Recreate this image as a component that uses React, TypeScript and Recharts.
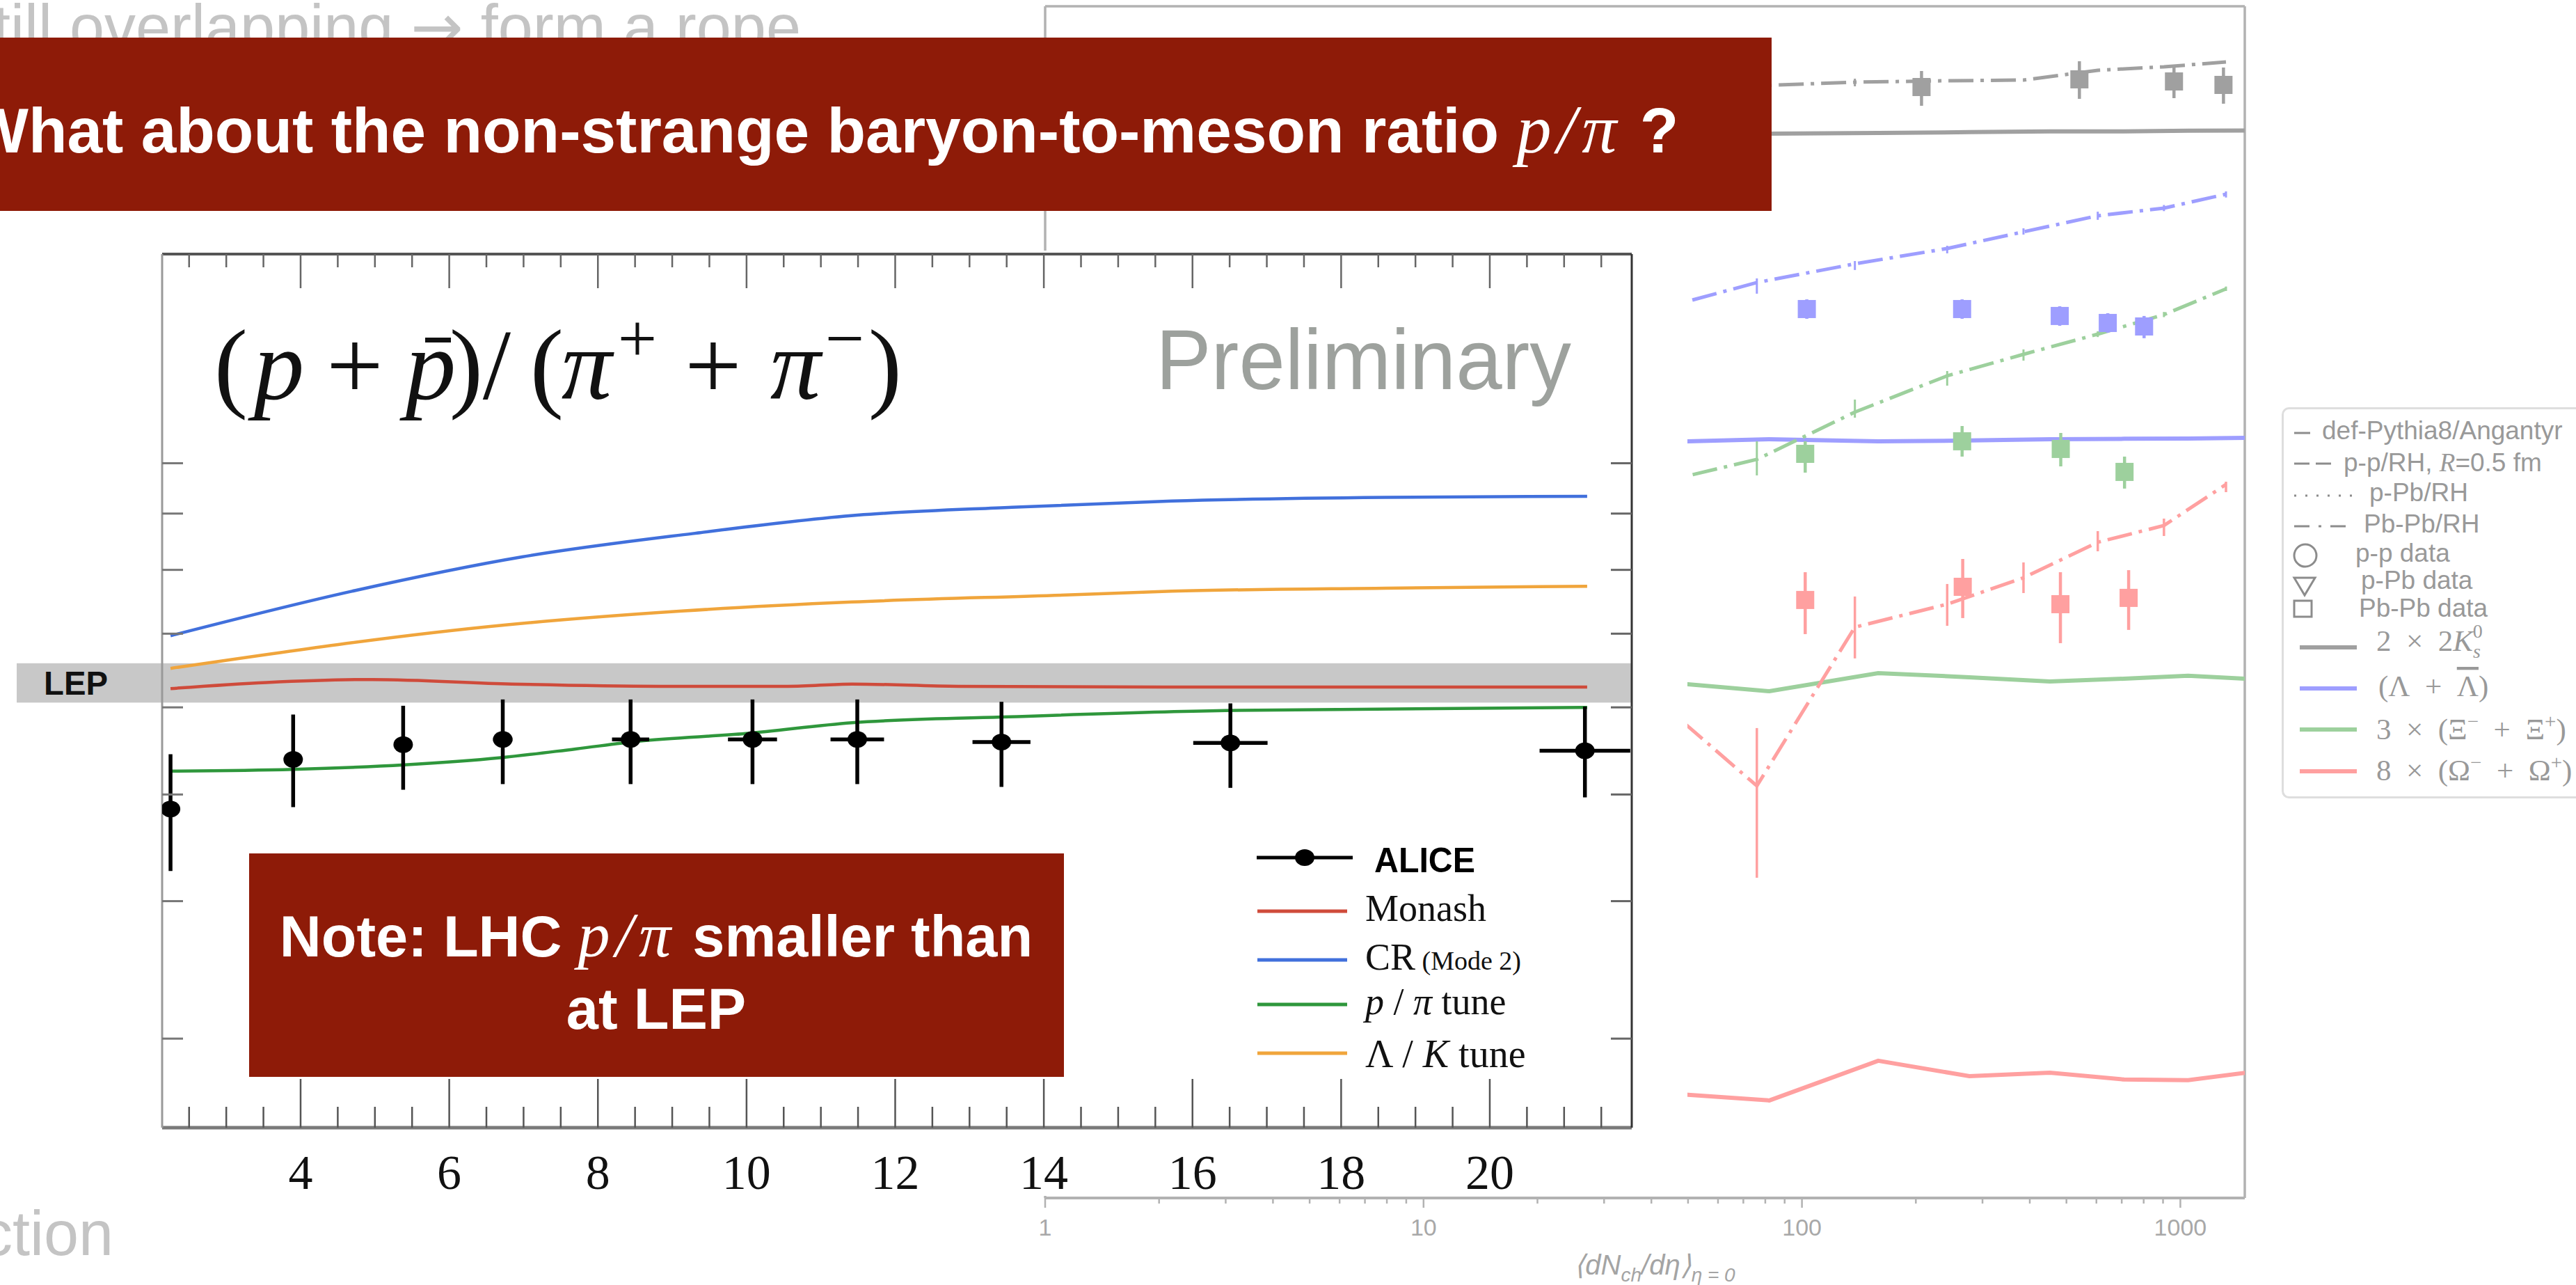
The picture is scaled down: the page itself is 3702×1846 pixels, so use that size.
import {
  ComposedChart,
  ErrorBar,
  Legend,
  Line,
  ReferenceArea,
  ReferenceLine,
  Scatter,
  XAxis,
  YAxis,
} from "recharts";

const W = 3702;
const H = 1846;

const SANS = '"Liberation Sans", Arial, Helvetica, sans-serif';
const SERIF = '"Liberation Serif", "Times New Roman", serif';
const SLIDE_RED = "#8e1b08";
const FADED = "#c4c4c4";

// ---------- ALICE (p + pbar)/(pi+ + pi-) panel ----------
const INSET_PLOT_H = 1255;
const insetMajorTicks = [4, 6, 8, 10, 12, 14, 16, 18, 20];
const insetTicks = [
  2.5, 3, 3.5, 4, 4.5, 5, 5.5, 6, 6.5, 7, 7.5, 8, 8.5, 9, 9.5, 10, 10.5, 11, 11.5, 12,
  12.5, 13, 13.5, 14, 14.5, 15, 15.5, 16, 16.5, 17, 17.5, 18, 18.5, 19, 19.5, 20, 20.5,
  21, 21.5,
];
const insetYTicks = [0.03, 0.04, 0.05, 0.06, 0.07, 0.08, 0.09, 0.1];

const aliceX = [2.25, 3.9, 5.38, 6.72, 8.44, 10.08, 11.49, 13.43, 16.51, 21.28];
const aliceY = [0.0485, 0.0538, 0.0555, 0.0561, 0.0561, 0.0561, 0.0561, 0.0558, 0.0557, 0.0548];
const aliceYLow = [0.0426, 0.0487, 0.0505, 0.0511, 0.0511, 0.0511, 0.0511, 0.0508, 0.0507, 0.0497];
const aliceYHigh = [0.0544, 0.0591, 0.0602, 0.061, 0.061, 0.061, 0.061, 0.0607, 0.0605, 0.0601];
const aliceXErr = [0, 0.05, 0.1, 0.13, 0.25, 0.33, 0.36, 0.39, 0.5, 0.61];

const monashX = [2.25, 3.54, 4.97, 6.84, 8.84, 10.56, 11.42, 12.85, 15.72, 21.31];
const monashY = [0.0624, 0.0632, 0.0636, 0.063, 0.0627, 0.0627, 0.063, 0.0627, 0.0626, 0.0626];
const crX = [2.25, 4.69, 6.98, 9.27, 11.49, 13.57, 15.72, 18.59, 21.31];
const crY = [0.0697, 0.0765, 0.0822, 0.0863, 0.0897, 0.0912, 0.0924, 0.0931, 0.0933];
const ppiX = [2.25, 3.9, 5.4, 6.69, 7.7, 8.55, 9.99, 11.42, 13.43, 16.44, 21.31];
const ppiY = [0.0525, 0.0527, 0.0532, 0.054, 0.055, 0.0559, 0.0568, 0.0581, 0.0588, 0.0596, 0.06];
const lkX = [2.25, 6.76, 9.13, 11.42, 14.29, 15.72, 18.59, 21.31];
const lkY = [0.0651, 0.0713, 0.0734, 0.0748, 0.0759, 0.0765, 0.077, 0.0773];

const lepLow = 0.0606;
const lepHigh = 0.0658;

const MONASH = "#cf4b3b";
const CR = "#4170dc";
const PPI = "#2f973c";
const LK = "#f0a53c";

// ---------- Angantyr / rope hadronization panel ----------
const decadeTicks = [
  1, 2, 3, 4, 5, 6, 7, 8, 9, 10, 20, 30, 40, 50, 60, 70, 80, 90, 100, 200, 300, 400, 500,
  600, 700, 800, 900, 1000,
];
const decadeLabels = [1, 10, 100, 1000];
const ratioTicks = [0.001, 0.01, 0.1, 1];

// default Pythia8/Angantyr curves
const defX = [30, 50, 82, 159, 277, 452, 710, 1048, 1600];
const k0Def = [0.478, 0.478, 0.478, 0.48, 0.482, 0.484, 0.484, 0.486, 0.487];
const lamDef = [0.0803, 0.0803, 0.0813, 0.0803, 0.0807, 0.0813, 0.0815, 0.0816, 0.082];
const xiDef = [0.02, 0.01965, 0.01887, 0.02096, 0.02046, 0.01997, 0.02029, 0.02063, 0.02021];
const omDef = [0.001877, 0.001818, 0.00176, 0.002215, 0.002026, 0.002068, 0.001987, 0.001979, 0.002085];

// Pb-Pb with rope hadronization
const rhX = [40, 76, 138, 242, 385, 605, 905, 1320];
const k0Rh = [0.628, 0.631, 0.644, 0.6495, 0.652, 0.69, 0.704, 0.724];
const k0RhLow = [0.628, 0.631, 0.6288, 0.6495, 0.652, 0.69, 0.704, 0.724];
const k0RhHigh = [0.628, 0.631, 0.6572, 0.6495, 0.652, 0.69, 0.704, 0.724];
const lamRh = [0.1708, 0.2016, 0.2247, 0.2456, 0.2705, 0.2969, 0.3104, 0.3364];
const lamRhLow = [0.1708, 0.189, 0.2168, 0.2388, 0.2662, 0.29, 0.305, 0.33];
const lamRhHigh = [0.1708, 0.2065, 0.2284, 0.2495, 0.2761, 0.304, 0.316, 0.342];
const xiRh = [0.06255, 0.07233, 0.09515, 0.1174, 0.133, 0.1495, 0.1674, 0.1943];
const xiRhLow = [0.06255, 0.06592, 0.0921, 0.1109, 0.1282, 0.147, 0.165, 0.192];
const xiRhHigh = [0.06255, 0.08034, 0.1023, 0.1207, 0.1368, 0.152, 0.17, 0.197];
const omRh = [0.01849, 0.0109, 0.02735, 0.03125, 0.03642, 0.04475, 0.0493, 0.06255];
const omRhLow = [0.01849, 0.0064, 0.02282, 0.02757, 0.03333, 0.04246, 0.0464, 0.05982];
const omRhHigh = [0.01849, 0.01524, 0.03267, 0.03513, 0.03981, 0.04773, 0.05132, 0.06355];

// Pb-Pb data
const k0DataX = [207, 541, 962, 1300];
const k0Data = [0.6262, 0.6547, 0.6468, 0.6339];
const k0DataLow = [0.5617, 0.5847, 0.5871, 0.5685];
const k0DataHigh = [0.6871, 0.7271, 0.7068, 0.7012];
const lamDataX = [103, 265, 480, 643, 802];
const lamData = [0.1729, 0.1729, 0.1661, 0.1595, 0.1563];
const lamDataLow = [0.1634, 0.1634, 0.1569, 0.1507, 0.146];
const lamDataHigh = [0.1829, 0.1829, 0.1757, 0.1688, 0.1661];
const xiDataX = [102, 265, 483, 712];
const xiData = [0.0747, 0.08034, 0.07685, 0.06727];
const xiDataLow = [0.06699, 0.07351, 0.06946, 0.06107];
const xiDataHigh = [0.08034, 0.08776, 0.08431, 0.07351];
const omDataX = [102, 266, 482, 730];
const omData = [0.03202, 0.03456, 0.03125, 0.03241];
const omDataLow = [0.02627, 0.02883, 0.02493, 0.02692];
const omDataHigh = [0.03761, 0.04061, 0.03761, 0.03806];

const GRAY = "#a0a0a0";
const BLUE = "#9e9eff";
const GREEN = "#9dd09d";
const PINK = "#ffa0a0";
const AX_GRAY = "#b2b2b2";
const LEGEND_TEXT = "#999";
const DASH_DOT = "36 10 5 10";
const EN = "\u2002";

const pts = (xs: number[], ys: number[]) => xs.map((x, i) => ({ x, y: ys[i] }));
const withBars = (xs: number[], ys: number[], lo: number[], hi: number[]) =>
  xs.map((x, i) => ({ x, y: ys[i], ey: [ys[i] - lo[i], hi[i] - ys[i]] }));

const aliceData = aliceX.map((x, i) => ({
  x,
  y: aliceY[i],
  ey: [aliceY[i] - aliceYLow[i], aliceYHigh[i] - aliceY[i]],
  ex: aliceXErr[i],
}));

// ---------- tick renderers ----------
// bottom axis tick also mirrors the inward tick onto the top frame
function InsetBottomTick({ x, y, payload }: any) {
  const major = insetMajorTicks.includes(payload.value);
  const top = y - INSET_PLOT_H;
  return (
    <g>
      <line x1={x} x2={x} y1={y} y2={y - (major ? 70 : 30)} stroke="#555" strokeWidth={2.5} />
      <line x1={x} x2={x} y1={top} y2={top + (major ? 49 : 19)} stroke="#666" strokeWidth={2.5} />
      {major && (
        <text x={x} y={y + 88} textAnchor="middle" fontFamily={SERIF} fontSize={70} fill="#111">
          {payload.value}
        </text>
      )}
    </g>
  );
}

function InsetLeftTick({ x, y }: any) {
  return <line x1={x} x2={x + 30} y1={y} y2={y} stroke="#777" strokeWidth={3} />;
}

function InsetRightTick({ x, y }: any) {
  return <line x1={x} x2={x - 30} y1={y} y2={y} stroke="#666" strokeWidth={3} />;
}

function DecadeTick({ x, y, payload }: any) {
  const major = decadeLabels.includes(payload.value);
  return (
    <g>
      <line x1={x} x2={x} y1={y} y2={y + (major ? 14 : 8)} stroke={AX_GRAY} strokeWidth={2.5} />
      {major && (
        <text x={x} y={y + 54} textAnchor="middle" fontFamily={SANS} fontSize={34} fill="#a8a8a8">
          {payload.value}
        </text>
      )}
    </g>
  );
}

// ---------- marker shapes ----------
const squareShape = (fill: string) => (props: any) => {
  const { cx, cy } = props;
  if (cx == null || cy == null) return <g />;
  return <rect x={cx - 13} y={cy - 13} width={26} height={26} fill={fill} />;
};

const aliceShape = (props: any) => {
  const { cx, cy } = props;
  if (cx == null || cy == null) return <g />;
  return <ellipse cx={cx} cy={cy} rx={14} ry={12} fill="#000" />;
};

const noMarker = () => <g />;

const LepBand = (props: any) => {
  const { x, y, width, height } = props;
  const left = 24;
  return (
    <g>
      <rect x={left} y={y} width={x + width - left} height={height} fill="#c8c8c8" />
      <text
        x={63}
        y={y + height - 11}
        fontFamily={SANS}
        fontWeight={700}
        fontSize={48}
        textLength={92}
        lengthAdjust="spacingAndGlyphs"
        fill="#111"
      >
        LEP
      </text>
    </g>
  );
};

// ---------- legends ----------
function InsetLegend() {
  const lx1 = 17;
  const lx2 = 146;
  const tx = 172;
  return (
    <svg width={420} height={360} style={{ overflow: "visible" }}>
      <line x1={16} x2={154} y1={32} y2={32} stroke="#000" strokeWidth={5} />
      <ellipse cx={85} cy={32} rx={14} ry={12} fill="#000" />
      <text
        x={185}
        y={53}
        fontFamily={SANS}
        fontWeight={700}
        fontSize={50}
        textLength={145}
        lengthAdjust="spacingAndGlyphs"
        fill="#000"
      >
        ALICE
      </text>

      <line x1={lx1} x2={lx2} y1={109} y2={109} stroke={MONASH} strokeWidth={5} />
      <text x={tx} y={123} fontFamily={SERIF} fontSize={54} fill="#111">
        Monash
      </text>

      <line x1={lx1} x2={lx2} y1={179} y2={179} stroke={CR} strokeWidth={5} />
      <text x={tx} y={193} fontFamily={SERIF} fontSize={54} fill="#111">
        CR
        <tspan fontSize={38}> (Mode 2)</tspan>
      </text>

      <line x1={lx1} x2={lx2} y1={243} y2={243} stroke={PPI} strokeWidth={5} />
      <text x={tx} y={257} fontFamily={SERIF} fontSize={54} fill="#111">
        <tspan fontStyle="italic">p</tspan>
        <tspan> / </tspan>
        <tspan fontStyle="italic">π</tspan>
        <tspan> tune</tspan>
      </text>

      <line x1={lx1} x2={lx2} y1={313} y2={313} stroke={LK} strokeWidth={5} />
      <text x={tx} y={333} fontFamily={SERIF} fontSize={56} fill="#111">
        Λ / <tspan fontStyle="italic">K</tspan> tune
      </text>
    </svg>
  );
}

const lineEntries = [
  { label: "def-Pythia8/Angantyr", dash: "23 0", x2: 41, ty: 46, tx: 58, y: 37 },
  { label: "p-p/RH, ", math: "R", tail: "=0.5 fm", dash: "22 9", x2: 71, ty: 92, tx: 89, y: 81 },
  { label: "p-Pb/RH", dash: "3 13", x2: 108, ty: 135, tx: 126, y: 127 },
  { label: "Pb-Pb/RH", dash: "22 13 4 13", x2: 98, ty: 180, tx: 118, y: 171 },
];

const speciesEntries = [
  { color: GRAY, y: 345 },
  { color: BLUE, y: 404 },
  { color: GREEN, y: 463 },
  { color: PINK, y: 523 },
];

function RightLegend() {
  const handle = "#8c8c8c";
  return (
    <svg width={445} height={564} style={{ overflow: "visible" }}>
      <rect x={1.5} y={1.5} width={440} height={559} rx={9} fill="#fff" stroke="#dedede" strokeWidth={3} />
      {lineEntries.map((e) => (
        <g key={e.label}>
          <line x1={18} x2={e.x2} y1={e.y} y2={e.y} stroke={handle} strokeWidth={3} strokeDasharray={e.dash} />
          <text x={e.tx} y={e.ty} fontFamily={SANS} fontSize={37} fill={LEGEND_TEXT}>
            {e.label}
            {e.math && (
              <tspan fontFamily={SERIF} fontStyle="italic">
                {e.math}
              </tspan>
            )}
            {e.tail}
          </text>
        </g>
      ))}

      <circle cx={34} cy={213} r={16} fill="none" stroke={handle} strokeWidth={3} />
      <text x={106} y={222} fontFamily={SANS} fontSize={37} fill={LEGEND_TEXT}>
        p-p data
      </text>
      <path d="M18 245 L48 245 L33 270 Z" fill="none" stroke={handle} strokeWidth={3} />
      <text x={114} y={261} fontFamily={SANS} fontSize={37} fill={LEGEND_TEXT}>
        p-Pb data
      </text>
      <rect x={18} y={278} width={25} height={23} fill="none" stroke={handle} strokeWidth={3} />
      <text x={111} y={301} fontFamily={SANS} fontSize={37} fill={LEGEND_TEXT}>
        Pb-Pb data
      </text>

      {speciesEntries.map((e) => (
        <line key={e.color} x1={26} x2={108} y1={e.y} y2={e.y} stroke={e.color} strokeWidth={6} />
      ))}
      <g fontFamily={SERIF} fontSize={43} fill={LEGEND_TEXT}>
        <text x={136} y={350}>
          2{EN}×{EN}2<tspan fontStyle="italic">K</tspan>
          <tspan fontSize={28} fontStyle="italic" dy={10}>
            s
          </tspan>
          <tspan fontSize={28} dx={-11} dy={-29}>
            0
          </tspan>
        </text>
        <text x={139} y={415}>
          (Λ{EN}+{EN}
          <tspan textDecoration="overline">Λ</tspan>)
        </text>
        <text x={136} y={477}>
          3{EN}×{EN}(Ξ<tspan fontSize={29} dy={-16}>−</tspan>
          <tspan dy={16}>{EN}+{EN}Ξ</tspan>
          <tspan fontSize={29} dy={-16}>+</tspan>
          <tspan dy={16}>)</tspan>
        </text>
        <text x={136} y={536}>
          8{EN}×{EN}(Ω<tspan fontSize={29} dy={-16}>−</tspan>
          <tspan dy={16}>{EN}+{EN}Ω</tspan>
          <tspan fontSize={29} dy={-16}>+</tspan>
          <tspan dy={16}>)</tspan>
        </text>
      </g>
    </svg>
  );
}

function MultiplicityTitle(props: any) {
  const vb = props.viewBox || { x: 0, y: 0, width: 0, height: 0 };
  return (
    <text
      x={vb.x + vb.width / 2 + 14}
      y={vb.y + 110}
      textAnchor="middle"
      fontFamily={SANS}
      fontStyle="italic"
      fontSize={40}
      fill="#a4a4a4"
    >
      ⟨dN
      <tspan fontSize={28} dy={10}>
        ch
      </tspan>
      <tspan dy={-10}>/dη⟩</tspan>
      <tspan fontSize={28} dy={10}>
        η = 0
      </tspan>
    </text>
  );
}

// ---------- charts ----------
function StrangenessChart() {
  return (
    <ComposedChart width={2302} height={1846} margin={{ top: 9, right: 476, bottom: 0, left: 101 }}>
      <XAxis
        type="number"
        dataKey="x"
        scale="log"
        domain={[1, 1480]}
        allowDataOverflow
        ticks={decadeTicks}
        interval={0}
        height={125}
        tickSize={0}
        tickMargin={0}
        tickLine={false}
        axisLine={{ stroke: AX_GRAY, strokeWidth: 4 }}
        tick={<DecadeTick />}
        label={(p: any) => <MultiplicityTitle {...p} />}
      />
      <YAxis
        type="number"
        dataKey="y"
        scale="log"
        domain={[0.001, 1]}
        allowDataOverflow
        ticks={ratioTicks}
        width={1}
        tick={false}
        tickLine={false}
        axisLine={{ stroke: AX_GRAY, strokeWidth: 3.5 }}
      />
      <ReferenceLine y={1} stroke={AX_GRAY} strokeWidth={3.5} />
      <ReferenceLine x={1480} stroke={AX_GRAY} strokeWidth={3.5} />

      <Line data={pts(defX, k0Def)} dataKey="y" stroke={GRAY} strokeWidth={6} dot={false} isAnimationActive={false} />
      <Line data={pts(defX, lamDef)} dataKey="y" stroke={BLUE} strokeWidth={6} dot={false} isAnimationActive={false} />
      <Line data={pts(defX, xiDef)} dataKey="y" stroke={GREEN} strokeWidth={6} dot={false} isAnimationActive={false} />
      <Line data={pts(defX, omDef)} dataKey="y" stroke={PINK} strokeWidth={6} dot={false} isAnimationActive={false} />

      <Line data={pts(rhX, k0Rh)} dataKey="y" stroke={GRAY} strokeWidth={5} strokeDasharray={DASH_DOT} dot={false} isAnimationActive={false} />
      <Line data={pts(rhX, lamRh)} dataKey="y" stroke={BLUE} strokeWidth={5} strokeDasharray={DASH_DOT} dot={false} isAnimationActive={false} />
      <Line data={pts(rhX, xiRh)} dataKey="y" stroke={GREEN} strokeWidth={5} strokeDasharray={DASH_DOT} dot={false} isAnimationActive={false} />
      <Line data={pts(rhX, omRh)} dataKey="y" stroke={PINK} strokeWidth={5} strokeDasharray={DASH_DOT} dot={false} isAnimationActive={false} />

      {/* model uncertainty ticks on the rope curves */}
      <Scatter data={withBars(rhX, k0Rh, k0RhLow, k0RhHigh)} dataKey="y" shape={noMarker} isAnimationActive={false}>
        <ErrorBar dataKey="ey" direction="y" width={0} stroke={GRAY} strokeWidth={3} />
      </Scatter>
      <Scatter data={withBars(rhX, lamRh, lamRhLow, lamRhHigh)} dataKey="y" shape={noMarker} isAnimationActive={false}>
        <ErrorBar dataKey="ey" direction="y" width={0} stroke={BLUE} strokeWidth={3} />
      </Scatter>
      <Scatter data={withBars(rhX, xiRh, xiRhLow, xiRhHigh)} dataKey="y" shape={noMarker} isAnimationActive={false}>
        <ErrorBar dataKey="ey" direction="y" width={0} stroke={GREEN} strokeWidth={3} />
      </Scatter>
      <Scatter data={withBars(rhX, omRh, omRhLow, omRhHigh)} dataKey="y" shape={noMarker} isAnimationActive={false}>
        <ErrorBar dataKey="ey" direction="y" width={0} stroke={PINK} strokeWidth={3.5} />
      </Scatter>

      {/* Pb-Pb measurements */}
      <Scatter data={withBars(k0DataX, k0Data, k0DataLow, k0DataHigh)} dataKey="y" shape={squareShape(GRAY)} isAnimationActive={false}>
        <ErrorBar dataKey="ey" direction="y" width={0} stroke={GRAY} strokeWidth={4.5} />
      </Scatter>
      <Scatter data={withBars(lamDataX, lamData, lamDataLow, lamDataHigh)} dataKey="y" shape={squareShape(BLUE)} isAnimationActive={false}>
        <ErrorBar dataKey="ey" direction="y" width={0} stroke={BLUE} strokeWidth={4.5} />
      </Scatter>
      <Scatter data={withBars(xiDataX, xiData, xiDataLow, xiDataHigh)} dataKey="y" shape={squareShape(GREEN)} isAnimationActive={false}>
        <ErrorBar dataKey="ey" direction="y" width={0} stroke={GREEN} strokeWidth={4.5} />
      </Scatter>
      <Scatter data={withBars(omDataX, omData, omDataLow, omDataHigh)} dataKey="y" shape={squareShape(PINK)} isAnimationActive={false}>
        <ErrorBar dataKey="ey" direction="y" width={0} stroke={PINK} strokeWidth={4.5} />
      </Scatter>

      <Legend
        layout="vertical"
        align="center"
        verticalAlign="middle"
        content={() => <RightLegend />}
        wrapperStyle={{ left: 1879, top: 585, width: 445, height: 564 }}
      />
    </ComposedChart>
  );
}

function ProtonPionChart() {
  const domainX = [2.137, 21.91];
  const domainY = [0.0249, 0.1549];
  return (
    <ComposedChart width={2425} height={1358} margin={{ top: 4, right: 79, bottom: 0, left: 232 }}>
      <XAxis
        type="number"
        dataKey="x"
        domain={domainX}
        allowDataOverflow
        ticks={insetTicks}
        interval={0}
        height={98}
        tickSize={0}
        tickMargin={0}
        tickLine={false}
        axisLine={{ stroke: "#7a7a7a", strokeWidth: 5 }}
        tick={<InsetBottomTick />}
      />
      <XAxis
        xAxisId="top"
        orientation="top"
        type="number"
        domain={domainX}
        allowDataOverflow
        ticks={insetTicks}
        height={1}
        tick={false}
        tickLine={false}
        axisLine={{ stroke: "#555", strokeWidth: 4 }}
      />
      <YAxis
        type="number"
        dataKey="y"
        scale="log"
        domain={domainY}
        allowDataOverflow
        ticks={insetYTicks}
        interval={0}
        width={1}
        tickSize={0}
        tickMargin={0}
        tickLine={false}
        axisLine={{ stroke: "#999", strokeWidth: 3 }}
        tick={<InsetLeftTick />}
      />
      <YAxis
        yAxisId="right"
        orientation="right"
        type="number"
        scale="log"
        domain={domainY}
        allowDataOverflow
        ticks={insetYTicks}
        interval={0}
        width={1}
        tickSize={0}
        tickMargin={0}
        tickLine={false}
        axisLine={{ stroke: "#333", strokeWidth: 3 }}
        tick={<InsetRightTick />}
      />

      <ReferenceArea y1={lepLow} y2={lepHigh} shape={LepBand} />

      <Line data={pts(crX, crY)} dataKey="y" type="monotone" stroke={CR} strokeWidth={4.5} dot={false} isAnimationActive={false} />
      <Line data={pts(lkX, lkY)} dataKey="y" type="monotone" stroke={LK} strokeWidth={4.5} dot={false} isAnimationActive={false} />
      <Line data={pts(monashX, monashY)} dataKey="y" type="monotone" stroke={MONASH} strokeWidth={4.5} dot={false} isAnimationActive={false} />
      <Line data={pts(ppiX, ppiY)} dataKey="y" type="monotone" stroke={PPI} strokeWidth={4.5} dot={false} isAnimationActive={false} />

      <Scatter data={aliceData} dataKey="y" shape={aliceShape} isAnimationActive={false}>
        <ErrorBar dataKey="ey" direction="y" width={0} stroke="#000" strokeWidth={5.5} />
        <ErrorBar dataKey="ex" direction="x" width={0} stroke="#000" strokeWidth={5.5} />
      </Scatter>

      <Legend
        layout="vertical"
        align="center"
        verticalAlign="middle"
        content={() => <InsetLegend />}
        wrapperStyle={{ left: 1790, top: 840, width: 420, height: 360 }}
      />
    </ComposedChart>
  );
}

// ---------- slide furniture ----------
function SlideBackdrop() {
  return (
    <svg width={W} height={H} style={{ position: "absolute", left: 0, top: 0 }}>
      <text x={-10} y={70} fontFamily={SANS} fontSize={90} fill={FADED}>
        till overlapping <tspan fontFamily='"DejaVu Sans", sans-serif'>→</tspan> form a rope
      </text>
      <text x={-27} y={1803} fontFamily={SANS} fontSize={90} fill={FADED}>
        ction
      </text>
    </svg>
  );
}

// glyph centres of the ratio label, left to right
const ratioGlyphs = [
  { ch: "(", cx: 332 },
  { ch: "p", cx: 401, it: true },
  { ch: "+", cx: 510 },
  { ch: "p", cx: 619, it: true },
  { ch: ")", cx: 670 },
  { ch: "/", cx: 714 },
  { ch: "(", cx: 786 },
  { ch: "π", cx: 843, it: true },
  { ch: "+", cx: 916, sup: true },
  { ch: "+", cx: 1025 },
  { ch: "π", cx: 1143, it: true },
  { ch: "−", cx: 1214, sup: true },
  { ch: ")", cx: 1272 },
];

function SlideOverlay() {
  return (
    <svg width={W} height={H} style={{ position: "absolute", left: 0, top: 0, pointerEvents: "none" }}>
      {/* panel label */}
      <g fontFamily={SERIF} fill="#111">
        {ratioGlyphs.map((g, i) => (
          <text
            key={i}
            x={g.cx}
            y={g.sup ? 520 : 573}
            textAnchor="middle"
            fontSize={g.sup ? 100 : 145}
            fontStyle={g.it ? "italic" : "normal"}
          >
            {g.ch}
          </text>
        ))}
        <rect x={611} y={485} width={37} height={7} />
      </g>
      <text
        x={1661}
        y={559}
        fontFamily={SANS}
        fontSize={122}
        fill="#9da19d"
        textLength={597}
        lengthAdjust="spacingAndGlyphs"
      >
        Preliminary
      </text>

      {/* title banner */}
      <rect x={0} y={54} width={2546} height={249} fill={SLIDE_RED} />
      <text x={-45} y={219} fontFamily={SANS} fontWeight={700} fontSize={91} fill="#fff">
        What about the non-strange baryon-to-meson ratio{" "}
        <tspan fontFamily={SERIF} fontStyle="italic" fontWeight={400} fontSize={100} letterSpacing={8}>
          p/π
        </tspan>{" "}
        ?
      </text>

      {/* note box */}
      <rect x={358} y={1226} width={1171} height={321} fill={SLIDE_RED} />
      <text x={943} y={1374} textAnchor="middle" fontFamily={SANS} fontWeight={700} fontSize={83} fill="#fff">
        Note: LHC{" "}
        <tspan fontFamily={SERIF} fontStyle="italic" fontWeight={400} fontSize={92} letterSpacing={8}>
          p/π
        </tspan>{" "}
        smaller than
      </text>
      <text x={943} y={1478} textAnchor="middle" fontFamily={SANS} fontWeight={700} fontSize={83} fill="#fff">
        at LEP
      </text>
    </svg>
  );
}

export default function App() {
  return (
    <div
      style={{
        position: "absolute",
        left: 0,
        top: 0,
        width: W,
        height: H,
        background: "#fff",
        overflow: "hidden",
      }}
    >
      <SlideBackdrop />
      <div style={{ position: "absolute", left: 1400, top: 0 }}>
        <StrangenessChart />
      </div>
      <div style={{ position: "absolute", left: 0, top: 360, width: 2425, height: 1358, background: "#fff" }}>
        <ProtonPionChart />
      </div>
      <SlideOverlay />
    </div>
  );
}
